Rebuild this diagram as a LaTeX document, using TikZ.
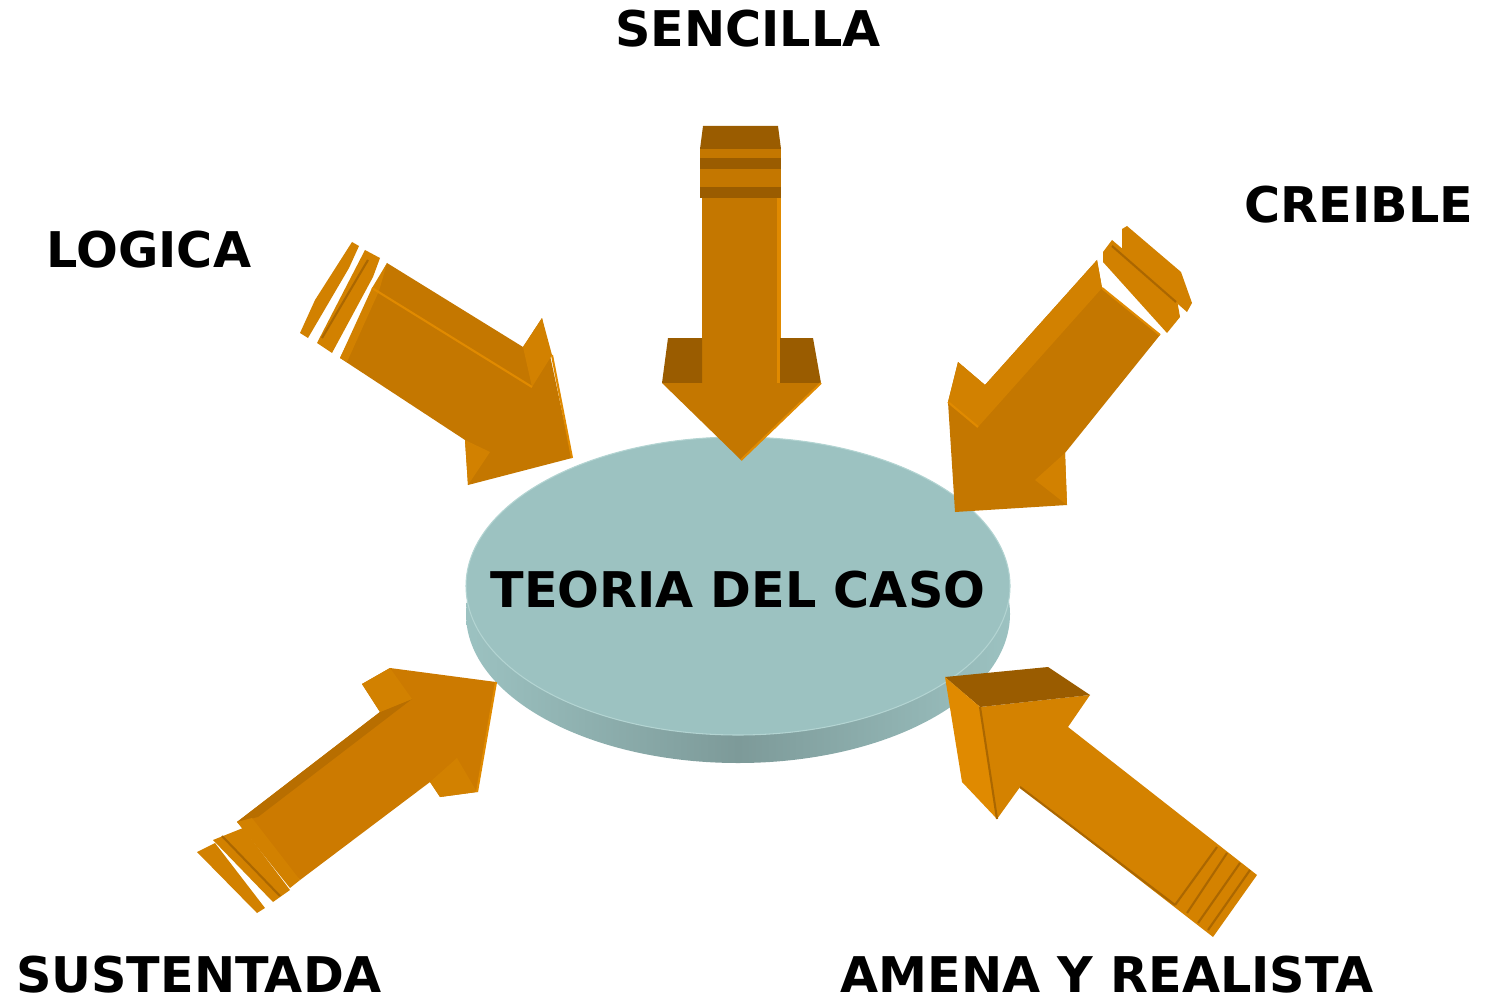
\documentclass[tikz,border=0pt]{standalone}
\usepackage{fontspec}
\setmainfont{DejaVu Sans}
\definecolor{amain}{HTML}{C47700}
\definecolor{bmain}{HTML}{CC7A00}
\definecolor{cmain}{HTML}{D48200}
\definecolor{alight}{HTML}{D28100}
\definecolor{aside}{HTML}{E08A00}
\definecolor{adark}{HTML}{9A5C00}
\definecolor{disctop}{HTML}{9CC2C1}
\definecolor{discside}{HTML}{7D9A99}
\definecolor{discrim}{HTML}{B3D4D2}
\tikzset{
  lbl/.style={font=\fontsize{28}{30}\selectfont\bfseries, inner sep=0pt},
  ridge/.style={aside, line width=1.2pt},
  groove/.style={adark!60!amain, line width=1.2pt}
}
\begin{document}
\begin{tikzpicture}[x=0.02cm, y=-0.02cm]
			\useasboundingbox (0,0) rectangle (1486,1003);
			%%%%% DISC %%%%%
			\shade[left color=disctop, right color=disctop, middle color=discside] (738,614) ellipse (272 and 149);
			\fill[disctop] (738,586) ellipse (272 and 149);
			\draw[discrim, line width=0.6pt] (738,586) ellipse (272 and 149);
			\node[lbl] (teoria) at (738,590) {TEORIA DEL CASO};
			
			%%%%% SENCILLA %%%%%
			\fill[adark] (703,126) -- (778,126) -- (781,149) -- (700,149) -- cycle;
			\fill[amain] (700,149) rectangle (781,158);
			\fill[adark] (700,158) rectangle (781,169);
			\fill[amain] (700,169) rectangle (781,187);
			\fill[adark] (700,187) rectangle (781,198);
			\fill[amain] (702,198) rectangle (780,383);
			\fill[aside] (777,198) rectangle (781,383);
			\fill[adark] (668,338) -- (702,338) -- (702,383) -- (662,383) -- cycle;
			\fill[adark] (780,338) -- (813,338) -- (821,383) -- (780,383) -- cycle;
			\fill[amain] (662,383) -- (821,383) -- (741,460) -- cycle;
			\draw[ridge] (821,383) -- (741,460);
			
			%%%%% LOGICA %%%%%
			\fill[alight] (300,333) -- (315,300) -- (352,242) -- (359,246) -- (349,268) -- (308,338) -- cycle;
			\fill[alight] (317,343) -- (365,250) -- (380,258) -- (373,277) -- (332,353) -- cycle;
			\draw[groove] (322,338) -- (368,260);
			\fill[amain] (340,358) -- (387,263) -- (523,347) -- (542,318) -- (572,458) -- (468,485) -- (465,440) -- cycle;
			\fill[alight] (340,358) -- (372,288) -- (387,263) -- (379,291) -- (347,362) -- cycle;
			\fill[alight] (523,347) -- (542,318) -- (552,355) -- (532,387) -- cycle;
			\fill[alight] (465,440) -- (490,452) -- (468,485) -- cycle;
			\draw[ridge] (372,288) -- (532,387);
			\draw[ridge] (552,355) -- (572,458);
			
			%%%%% CREIBLE %%%%%
			\fill[alight] (1122,229) -- (1127,226) -- (1181,272) -- (1192,303) -- (1187,312) -- (1122,255) -- cycle;
			\fill[alight] (1103,252) -- (1112,240) -- (1176,294) -- (1180,317) -- (1167,333) -- (1103,262) -- cycle;
			\draw[groove] (1112,246) -- (1176,302);
			\fill[amain] (1097,260) -- (985,385) -- (958,362) -- (948,402) -- (955,512) -- (1067,505) -- (1065,453) -- (1160,335) -- (1102,288) -- cycle;
			\fill[alight] (1097,260) -- (985,385) -- (958,362) -- (948,402) -- (978,427) -- (1102,288) -- cycle;
			\fill[alight] (1035,480) -- (1065,453) -- (1067,505) -- cycle;
			\draw[ridge] (1102,288) -- (1160,335);
			\draw[ridge] (948,402) -- (978,427);
			
			%%%%% SUSTENTADA %%%%%
			\fill[alight] (197,852) -- (215,843) -- (265,908) -- (257,913) -- cycle;
			\fill[alight] (213,840) -- (243,828) -- (290,890) -- (273,902) -- cycle;
			\draw[groove] (222,836) -- (280,896);
			\fill[bmain] (237,822) -- (380,712) -- (362,684) -- (390,668) -- (496,682) -- (477,792) -- (440,797) -- (430,782) -- (300,880) -- cycle;
			\fill[adark!40!bmain] (237,822) -- (380,712) -- (412,699) -- (258,817) -- cycle;
			\fill[alight] (237,822) -- (252,818) -- (300,880) -- (290,888) -- cycle;
			\fill[alight] (362,684) -- (390,668) -- (412,699) -- (380,712) -- cycle;
			\fill[alight] (430,782) -- (457,758) -- (477,792) -- (440,797) -- cycle;
			\draw[ridge] (496,682) -- (477,792);
			
			%%%%% AMENA Y REALISTA %%%%%
			\fill[cmain] (980,707) -- (1090,695) -- (1068,727) -- (1257,875) -- (1213,937) -- (1020,787) -- (997,819) -- cycle;
			\fill[adark] (945,677) -- (1048,667) -- (1090,695) -- (980,707) -- cycle;
			\fill[aside] (945,677) -- (980,707) -- (997,819) -- (962,782) -- cycle;
			\draw[groove] (980,707) -- (997,819);
			\draw[groove] (1020,787) -- (1175,905);
			\draw[groove] (1217,847) -- (1175,905);
			\draw[groove] (1227,853) -- (1187,913);
			\draw[groove] (1240,863) -- (1198,923);
			\draw[groove] (1250,870) -- (1208,930);
			
			%%%%% LABELS %%%%%
			\node[lbl] (sencilla) at (748,29) {SENCILLA};
			\node[lbl] (creible) at (1359,205) {CREIBLE};
			\node[lbl] (logica) at (149,250) {LOGICA};
			\node[lbl] (sustentada) at (199,975) {SUSTENTADA};
			\node[lbl, text depth=0pt, anchor=base] (amena) at (1107,992) {AMENA Y REALISTA};
		\end{tikzpicture}
\end{document}
